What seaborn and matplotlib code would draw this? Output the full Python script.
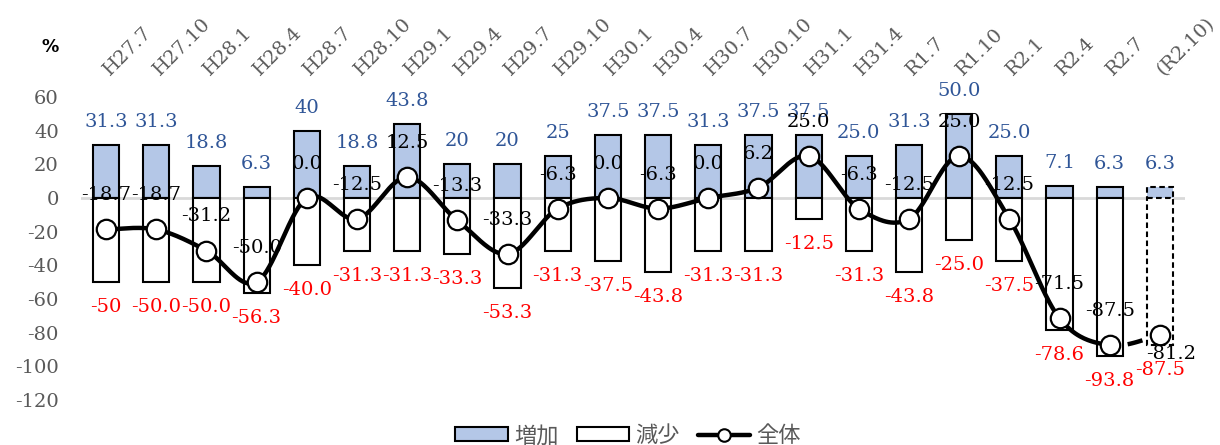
import numpy as np
import pandas as pd
import matplotlib
matplotlib.use("Agg")
import matplotlib.pyplot as plt
from matplotlib.patches import Patch
from matplotlib.lines import Line2D
import seaborn as sns

# --- data -------------------------------------------------------------
periods = ["H27.7", "H27.10", "H28.1", "H28.4", "H28.7", "H28.10", "H29.1",
           "H29.4", "H29.7", "H29.10", "H30.1", "H30.4", "H30.7", "H30.10",
           "H31.1", "H31.4", "R1.7", "R1.10", "R2.1", "R2.4", "R2.7", "(R2.10)"]
increase_text = ["31.3", "31.3", "18.8", "6.3", "40", "18.8", "43.8", "20",
                 "20", "25", "37.5", "37.5", "31.3", "37.5", "37.5", "25.0",
                 "31.3", "50.0", "25.0", "7.1", "6.3", "6.3"]
decrease_text = ["-50", "-50.0", "-50.0", "-56.3", "-40.0", "-31.3", "-31.3",
                 "-33.3", "-53.3", "-31.3", "-37.5", "-43.8", "-31.3", "-31.3",
                 "-12.5", "-31.3", "-43.8", "-25.0", "-37.5", "-78.6", "-93.8",
                 "-87.5"]
overall_text = ["-18.7", "-18.7", "-31.2", "-50.0", "0.0", "-12.5", "12.5",
                "-13.3", "-33.3", "-6.3", "0.0", "-6.3", "0.0", "6.2", "25.0",
                "-6.3", "-12.5", "25.0", "-12.5", "-71.5", "-87.5", "-81.2"]
y_ticks = [60, 40, 20, 0, -20, -40, -60, -80, -100, -120]
legend_labels = ["増加", "減少", "全体"]

increase = [float(s) for s in increase_text]
decrease = [float(s) for s in decrease_text]
overall = [float(s) for s in overall_text]

df = pd.DataFrame({"period": periods, "increase": increase,
                   "decrease": decrease, "overall": overall})

# --- style ------------------------------------------------------------
sns.set_style("white")
plt.rcParams["font.family"] = ["DejaVu Serif", "Noto Sans CJK JP"]
plt.rcParams["lines.scale_dashes"] = False

BLUE_FILL = "#b4c7e7"
BLUE_TEXT = "#2f5597"
RED_TEXT = "#ff0000"
GRAY_TEXT = "#595959"
FS = 14

fig = plt.figure(figsize=(12.2, 4.45), dpi=100)
ax = fig.add_axes([81 / 1220, 1 - 400 / 445, (1185 - 81) / 1220, (400 - 97) / 445])

# zero line behind the bars
ax.axhline(0, color="#d9d9d9", lw=2, zorder=0.5)

sns.barplot(data=df, x="period", y="increase", order=periods, color=BLUE_FILL,
            saturation=1, width=0.52, edgecolor="black", linewidth=1.5,
            errorbar=None, ax=ax, zorder=2)
sns.barplot(data=df, x="period", y="decrease", order=periods, color="white",
            saturation=1, width=0.52, edgecolor="black", linewidth=1.5,
            errorbar=None, ax=ax, zorder=2)

# the latest period is a forecast: dashed outlines
n = len(periods)
for p in (ax.patches[n - 1], ax.patches[2 * n - 1]):
    p.set_linestyle((0, (4, 2.5)))


# smoothed total line (cubic Bezier through the points, Catmull-Rom tangents)
def smooth_segments(vals, steps=40):
    x = np.arange(len(vals), dtype=float)
    y = np.asarray(vals, dtype=float)
    pts = np.column_stack([x, y])
    ext = np.vstack([pts[0], pts, pts[-1]])
    t = np.linspace(0, 1, steps)[:, None]
    segs = []
    for i in range(len(vals) - 1):
        p0, p1, p2, p3 = ext[i], ext[i + 1], ext[i + 2], ext[i + 3]
        c1 = p1 + (p2 - p0) / 6
        c2 = p2 - (p3 - p1) / 6
        b = ((1 - t) ** 3) * p1 + 3 * ((1 - t) ** 2) * t * c1 \
            + 3 * (1 - t) * t ** 2 * c2 + t ** 3 * p2
        segs.append(b)
    return segs


segs = smooth_segments(overall)
solid = np.vstack(segs[:-1])
ax.plot(solid[:, 0], solid[:, 1], color="black", lw=3.2, zorder=3,
        solid_capstyle="round")
last = segs[-1]
ax.plot(last[:, 0], last[:, 1], color="black", lw=3.2, zorder=3,
        linestyle=(38, (11, 40)), dash_capstyle="butt")
sns.scatterplot(x=np.arange(n), y=overall, ax=ax, s=14 ** 2, color="white",
                edgecolor="black", linewidth=1.6, zorder=4, legend=False)

# value labels
for i in range(n):
    ax.annotate(increase_text[i], (i, increase[i]), xytext=(0, 16.5),
                textcoords="offset points", ha="center", va="center",
                color=BLUE_TEXT, fontsize=FS, zorder=5)
    ax.annotate(decrease_text[i], (i, decrease[i]), xytext=(0, -18),
                textcoords="offset points", ha="center", va="center",
                color=RED_TEXT, fontsize=FS, zorder=5)
    off = (8, -14) if i == n - 1 else (0, 24.5)
    ax.annotate(overall_text[i], (i, overall[i]), xytext=off,
                textcoords="offset points", ha="center", va="center",
                color="black", fontsize=FS, zorder=5)

# axes
ax.set_xlim(-0.5, n - 0.5)
ax.set_ylim(-120, 60)
ax.set_yticks(y_ticks)
ax.set_yticklabels([str(v) for v in y_ticks], color=GRAY_TEXT, fontsize=FS)
ax.tick_params(axis="y", length=0, pad=16)
ax.xaxis.tick_top()
ax.set_xticks(range(n))
ax.set_xticklabels(periods, rotation=45, ha="left", va="center",
                   rotation_mode="anchor", color=GRAY_TEXT, fontsize=14)
ax.tick_params(axis="x", length=0, pad=18)
ax.set_xlabel("")
ax.set_ylabel("")
for s in ax.spines.values():
    s.set_visible(False)

fig.text(50 / 1220, 1 - 47 / 445, "%", ha="center", va="center",
         fontsize=12.5, family="DejaVu Sans", weight="bold", color="black")

handles = [
    Patch(facecolor=BLUE_FILL, edgecolor="black", linewidth=1.5),
    Patch(facecolor="white", edgecolor="black", linewidth=1.5),
    Line2D([0], [0], color="black", lw=3.2, marker="o", markersize=9,
           markerfacecolor="white", markeredgecolor="black", markeredgewidth=1.5),
]
leg = fig.legend(handles, legend_labels, loc="lower center",
                 bbox_to_anchor=(0.515, -0.05), ncol=3, frameon=False,
                 prop={"family": "Noto Sans CJK JP", "size": 16},
                 handlelength=2.35, handleheight=0.6, handletextpad=0.3,
                 columnspacing=0.8)
for t in leg.get_texts():
    t.set_color(GRAY_TEXT)

fig.savefig("out.png", dpi=100)
